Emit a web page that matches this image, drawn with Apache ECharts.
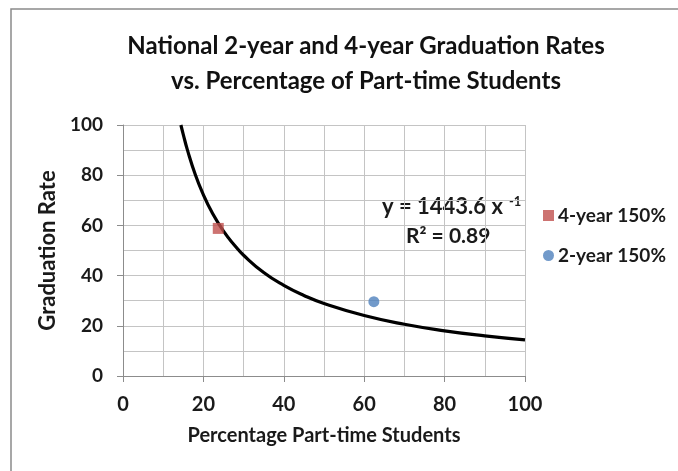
<!DOCTYPE html>
<html>
<head>
<meta charset="utf-8">
<script src="https://cdn.jsdelivr.net/npm/echarts@6/dist/echarts.min.js"></script>
<style>html,body{margin:0;padding:0;background:#fff;}#c{width:678px;height:471px;}</style>
</head>
<body>
<div id="c"></div>
<script>
var titleLines = ['National 2-year and 4-year Graduation Rates', 'vs. Percentage of Part-time Students'];
var xAxisName = 'Percentage Part-time Students';
var yAxisName = 'Graduation Rate';
var fourYear = [[23.7, 58.8]];
var twoYear = [[62.4, 29.6]];
// trendline points
var trendX = [14.4, 15, 16, 18, 20, 22, 25, 28, 30, 35, 40, 45, 50, 60, 70, 80, 90, 100];
var trendY = [100, 96.2, 90.2, 80.2, 72.2, 65.6, 57.7, 51.6, 48.1, 41.2, 36.1, 32.1, 28.9, 24.1, 20.6, 18.0, 16.0, 14.4];
var eqText = 'y = 1443.6 x';
var eqSup = '-1';
var r2Text = 'R\u00b2 = 0.89';

var FONT = 'Lato, "Open Sans", sans-serif';
var TXT = '#1a1a1a';
var trend = trendX.map(function (x, i) { return [x, trendY[i]]; });

var chart = echarts.init(document.getElementById('c'));
var axisCommon = {
  type: 'value', min: 0, max: 100, interval: 20,
  axisLine: { show: true, lineStyle: { color: '#8c8c8c', width: 1 } },
  axisTick: { show: true, inside: false, length: 6, lineStyle: { color: '#8c8c8c' } },
  splitLine: { show: true, lineStyle: { color: '#c4c4c4', width: 1 } },
  minorTick: { show: false, splitNumber: 2 },
  minorSplitLine: { show: true, lineStyle: { color: '#c4c4c4', width: 1 } },
  nameLocation: 'middle'
};
chart.setOption({
  backgroundColor: '#fff',
  animation: false,
  title: {
    text: titleLines.join('\n'),
    left: 366, top: 29, textAlign: 'center', padding: 0,
    textStyle: { fontFamily: FONT, fontWeight: 'bold', fontSize: 24, lineHeight: 35, color: '#111' }
  },
  grid: { left: 123, right: 153, top: 125, bottom: 95, containLabel: false },
  xAxis: Object.assign({}, axisCommon, {
    name: xAxisName, nameGap: 50,
    nameTextStyle: { fontFamily: FONT, fontWeight: 'bold', fontSize: 20, color: TXT },
    axisLabel: { fontFamily: FONT, fontWeight: 'bold', fontSize: 20, color: TXT, margin: 19 }
  }),
  yAxis: Object.assign({}, axisCommon, {
    name: yAxisName, nameGap: 63, nameRotate: 90,
    nameTextStyle: { fontFamily: FONT, fontWeight: 'bold', fontSize: 22, color: TXT },
    axisLabel: { fontFamily: FONT, fontWeight: 'bold', fontSize: 19, color: TXT, margin: 20 }
  }),
  legend: {
    orient: 'vertical', left: 538, top: 201, itemGap: 21,
    itemWidth: 11, itemHeight: 11,
    textStyle: { fontFamily: FONT, fontWeight: 'bold', fontSize: 19, color: TXT, padding: [0, 0, 0, -1] },
    data: [{ name: '4-year 150%', icon: 'rect' }, { name: '2-year 150%', icon: 'circle' }]
  },
  series: [
    { name: 'trend', type: 'line', data: trend, smooth: true, showSymbol: false, silent: true,
      lineStyle: { color: '#000', width: 3.2 }, z: 2 },
    { name: '4-year 150%', type: 'scatter', data: fourYear, symbol: 'rect', symbolSize: 11,
      itemStyle: { color: '#C0504D' }, z: 3 },
    { name: '2-year 150%', type: 'scatter', data: twoYear, symbol: 'circle', symbolSize: 11,
      itemStyle: { color: '#4F81BD' }, z: 3 }
  ],
  graphic: [
    { type: 'rect', shape: { x: 11, y: 9, width: 720, height: 520 }, silent: true,
      style: { fill: 'none', stroke: '#8a8a8a', lineWidth: 1.5 }, z: 100 },
    { type: 'text', left: 382, top: 195,
      style: {
        text: '{m|' + eqText + '}{s|' + eqSup + '}',
        rich: {
          m: { fontFamily: FONT, fontWeight: 'bold', fontSize: 22, fill: TXT, color: TXT },
          s: { fontFamily: FONT, fontWeight: 'bold', fontSize: 13, fill: TXT, color: TXT, padding: [0, 0, 10, 6] }
        }
      } },
    { type: 'text', left: 406, top: 226,
      style: { text: r2Text, fontFamily: FONT, fontWeight: 'bold', fontSize: 21, fill: TXT } }
  ]
});
</script>
</body>
</html>
